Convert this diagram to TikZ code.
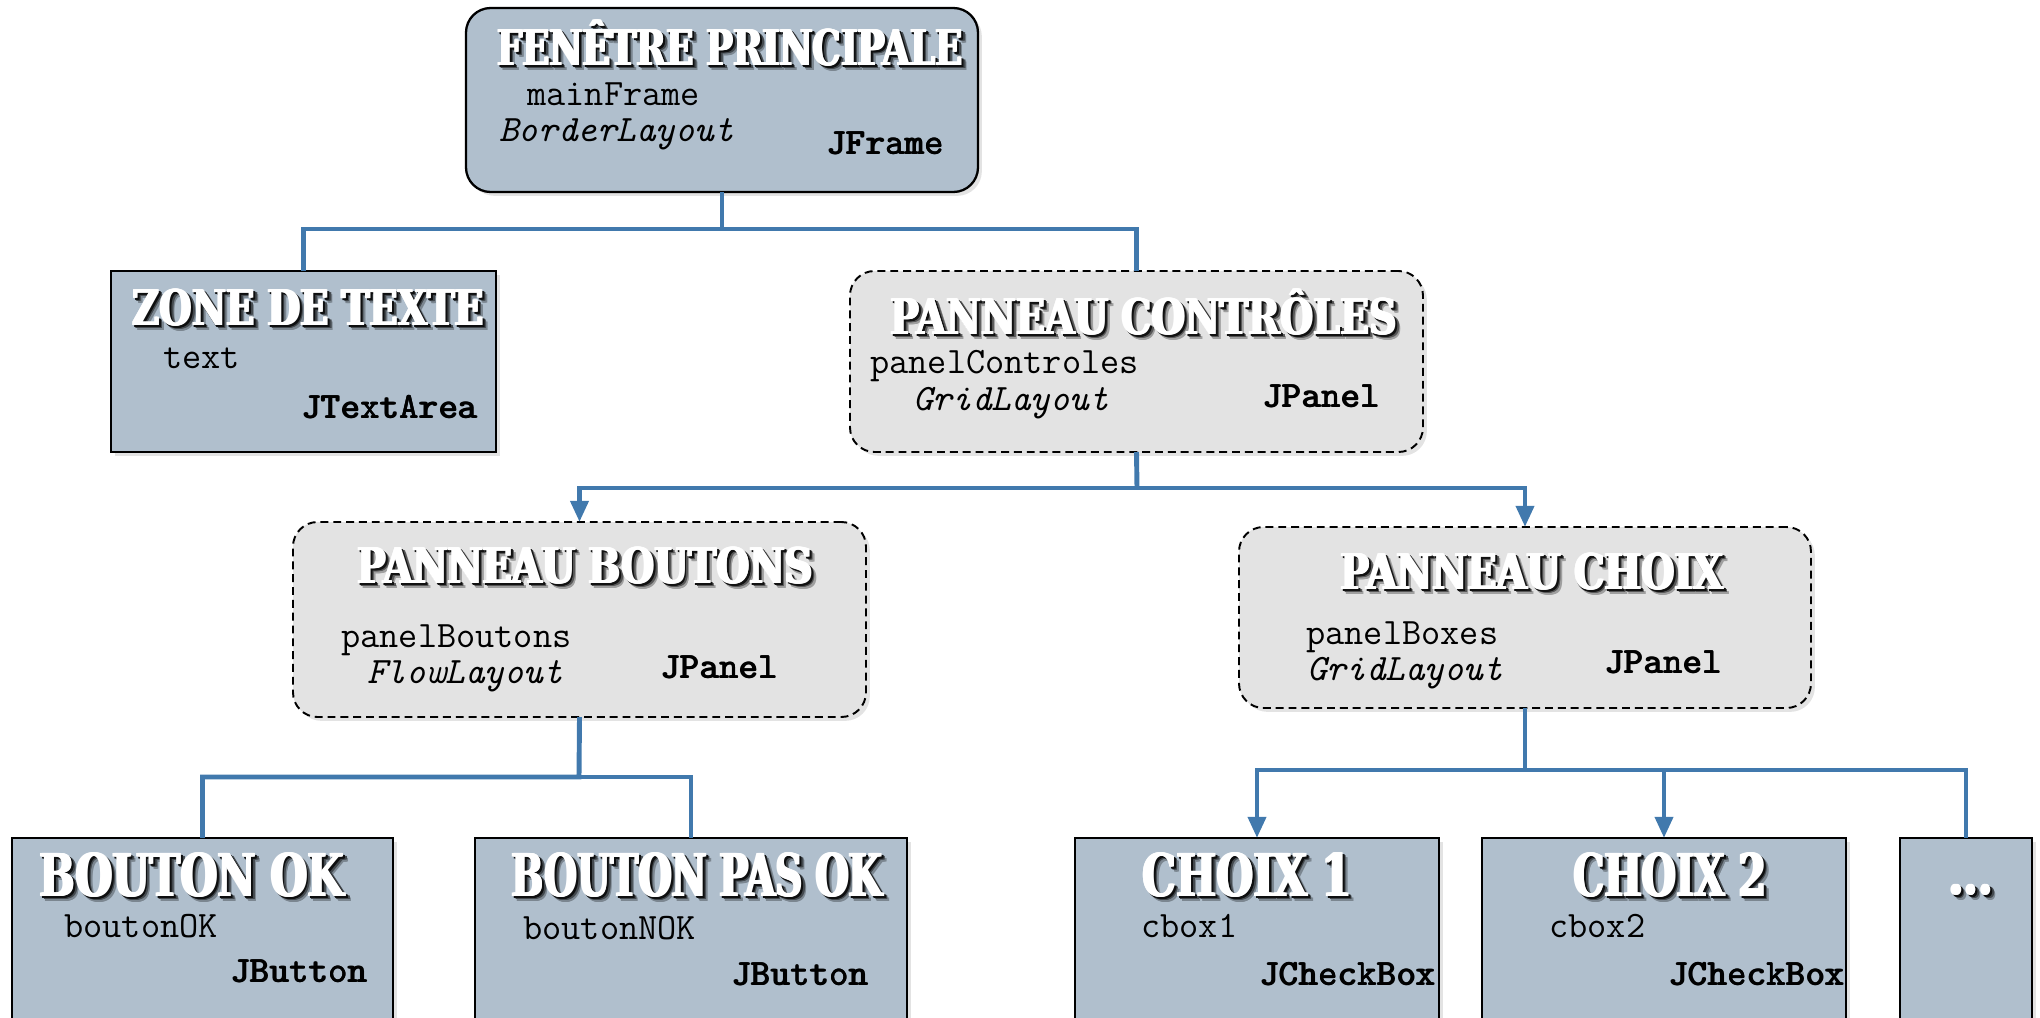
\documentclass[tikz,border=0pt]{standalone}
\usepackage{fontspec}
\usepackage{graphicx}
\usetikzlibrary{arrows.meta,shadows,fit}
\newfontfamily\stencilfont{DejaVu Serif}

\definecolor{boxblue}{RGB}{176,191,205}
\definecolor{panelgrey}{RGB}{227,227,227}
\definecolor{linkblue}{RGB}{65,121,173}

% heavy heading: the text squeezed to a given width and printed four times side by side
\newcommand\headraw[3]{\resizebox{#1cm}{\height}{\fontsize{#2}{#2}\selectfont\stencilfont\bfseries #3}}
\newcommand\headthick[4]{% colour, width (cm), font size, text
  {\color{#1}\rlap{\headraw{#2}{#3}{#4}}\kern0.45pt\rlap{\headraw{#2}{#3}{#4}}\kern0.45pt%
   \rlap{\headraw{#2}{#3}{#4}}\kern0.45pt\headraw{#2}{#3}{#4}}}
% white heading with a soft dark shadow falling to the lower right
\newcommand\shadowtitle[4]{% background colour, width (cm), font size, text
  \rlap{\kern2.8pt\raisebox{-3.0pt}{\headthick{#1!70!black}{#2}{#3}{#4}}}%
  \rlap{\kern2.0pt\raisebox{-2.1pt}{\headthick{#1!38!black}{#2}{#3}{#4}}}%
  \rlap{\kern1.1pt\raisebox{-1.2pt}{\headthick{#1!8!black}{#2}{#3}{#4}}}%
  \headthick{white}{#2}{#3}{#4}}
% courier-like bold, printed twice for a heavier stroke
\newcommand\heavy[1]{\rlap{#1}\kern0.45pt#1}

\tikzset{
  softshadow/.style={drop shadow={opacity=0.22, shadow xshift=2.2pt, shadow yshift=-2.2pt}},
  wbox/.style={draw=black, line width=1.3pt, fill=boxblue, inner sep=0pt, outer sep=0pt, softshadow},
  pbox/.style={draw=black, line width=1.1pt, dash pattern=on 4.5pt off 2.8pt, fill=panelgrey,
               rounded corners=14pt, inner sep=0pt, outer sep=0pt, softshadow},
  heading/.style={anchor=base, inner sep=0pt},
  mono/.style={anchor=base west, inner sep=0pt, font=\fontsize{21.2}{23}\selectfont\ttfamily},
  monoit/.style={mono, font=\fontsize{21.2}{23}\selectfont\ttfamily\itshape},
  monobf/.style={mono, font=\fontsize{21.2}{23}\selectfont\ttfamily\bfseries},
  link/.style={draw=linkblue, line width=2.8pt, line join=miter},
  linkarrow/.style={link, -{Triangle[length=12pt,width=10pt]}},
}

\begin{document}
\begin{tikzpicture}[x=0.02cm, y=-0.02cm]
\useasboundingbox (0,0) rectangle (2040,1018);
\clip (0,0) rectangle (2040,1018);

% boxes
\node[wbox, rounded corners=14pt, fit={(466,8) (978,192)}] (main) {};
\node[wbox, fit={(111,271) (496,452)}] (zone) {};
\node[pbox, fit={(850,271) (1423,452)}] (ctrl) {};
\node[pbox, fit={(293,522) (866,717)}] (pb) {};
\node[pbox, fit={(1239,527) (1811,708)}] (pc) {};
\node[wbox, fit={(12,838) (393,1040)}] (bok) {};
\node[wbox, fit={(475,838) (907,1040)}] (bpas) {};
\node[wbox, fit={(1075,838) (1439,1040)}] (c1) {};
\node[wbox, fit={(1482,838) (1846,1040)}] (c2) {};
\node[wbox, fit={(1900,838) (2032,1040)}] (more) {};

% connectors
\coordinate (j1) at (722,229);
\draw[link] (main.south) -- (j1) -| (zone.north);
\draw[link] (j1) -| (ctrl.north);

\coordinate (j2) at (1137,488);
\draw[link] (ctrl.south) -- (j2);
\draw[linkarrow] (j2) -| (pb.north);
\draw[linkarrow] (j2) -| (pc.north);

\coordinate (j3) at (579,777);
\draw[link] (pb.south) -- (j3) -| (bok.north);
\draw[link] (j3) -| (bpas.north);

\coordinate (j4) at (1525,770);
\draw[link] (pc.south) -- (j4);
\draw[linkarrow] (j4) -| (c1.north);
\draw[linkarrow] (j4) -| (c2.north);
\draw[link] (j4) -| (more.north);

% headings
\node[heading] (tmain)  at (730,65)   {\shadowtitle{boxblue}{9.31}{28}{FENÊTRE PRINCIPALE}};
\node[heading] (tzone)  at (308,325)  {\shadowtitle{boxblue}{7.03}{28}{ZONE DE TEXTE}};
\node[heading] (tctrl)  at (1144,334) {\shadowtitle{panelgrey}{10.13}{28}{PANNEAU CONTRÔLES}};
\node[heading] (tpb)    at (585,583)  {\shadowtitle{panelgrey}{9.11}{28}{PANNEAU BOUTONS}};
\node[heading] (tpc)    at (1532,589) {\shadowtitle{panelgrey}{7.65}{28}{PANNEAU CHOIX}};
\node[heading] (tbok)   at (192,896)  {\shadowtitle{boxblue}{6.09}{33.6}{BOUTON OK}};
\node[heading] (tbpas)  at (697,896)  {\shadowtitle{boxblue}{7.41}{33.6}{BOUTON PAS OK}};
\node[heading] (tc1)    at (1247,896) {\shadowtitle{boxblue}{4.19}{33.6}{CHOIX 1}};
\node[heading] (tc2)    at (1670,896) {\shadowtitle{boxblue}{3.85}{33.6}{CHOIX 2}};
\node[heading] (tmore)  at (1971,894) {\shadowtitle{boxblue}{0.88}{33.6}{...}};

% names, layouts and classes
\node[mono]   (n-main)  at (527,105) {mainFrame};
\node[monoit] (l-main)  at (499,141) {BorderLayout};
\node[monobf] (k-main)  at (826,154) {\heavy{JFrame}};

\node[mono]   (n-zone)  at (163,368) {text};
\node[monobf] (k-zone)  at (301,418) {\heavy{JTextArea}};

\node[mono]   (n-ctrl)  at (870,373) {panelControles};
\node[monoit] (l-ctrl)  at (913,410) {GridLayout};
\node[monobf] (k-ctrl)  at (1262,407) {\heavy{JPanel}};

\node[mono]   (n-pb)    at (341,647) {panelBoutons};
\node[monoit] (l-pb)    at (367,683) {FlowLayout};
\node[monobf] (k-pb)    at (660,678) {\heavy{JPanel}};

\node[mono]   (n-pc)    at (1306,644) {panelBoxes};
\node[monoit] (l-pc)    at (1307,680) {GridLayout};
\node[monobf] (k-pc)    at (1604,673) {\heavy{JPanel}};

\node[mono]   (n-bok)   at (64,937) {boutonOK};
\node[monobf] (k-bok)   at (230,982) {\heavy{JButton}};

\node[mono]   (n-bpas)  at (523,939) {boutonNOK};
\node[monobf] (k-bpas)  at (731,985) {\heavy{JButton}};

\node[mono]   (n-c1)    at (1141,937) {cbox1};
\node[monobf] (k-c1)    at (1259,985) {\heavy{JCheckBox}};

\node[mono]   (n-c2)    at (1549,937) {cbox2};
\node[monobf] (k-c2)    at (1668,985) {\heavy{JCheckBox}};
\end{tikzpicture}
\end{document}
